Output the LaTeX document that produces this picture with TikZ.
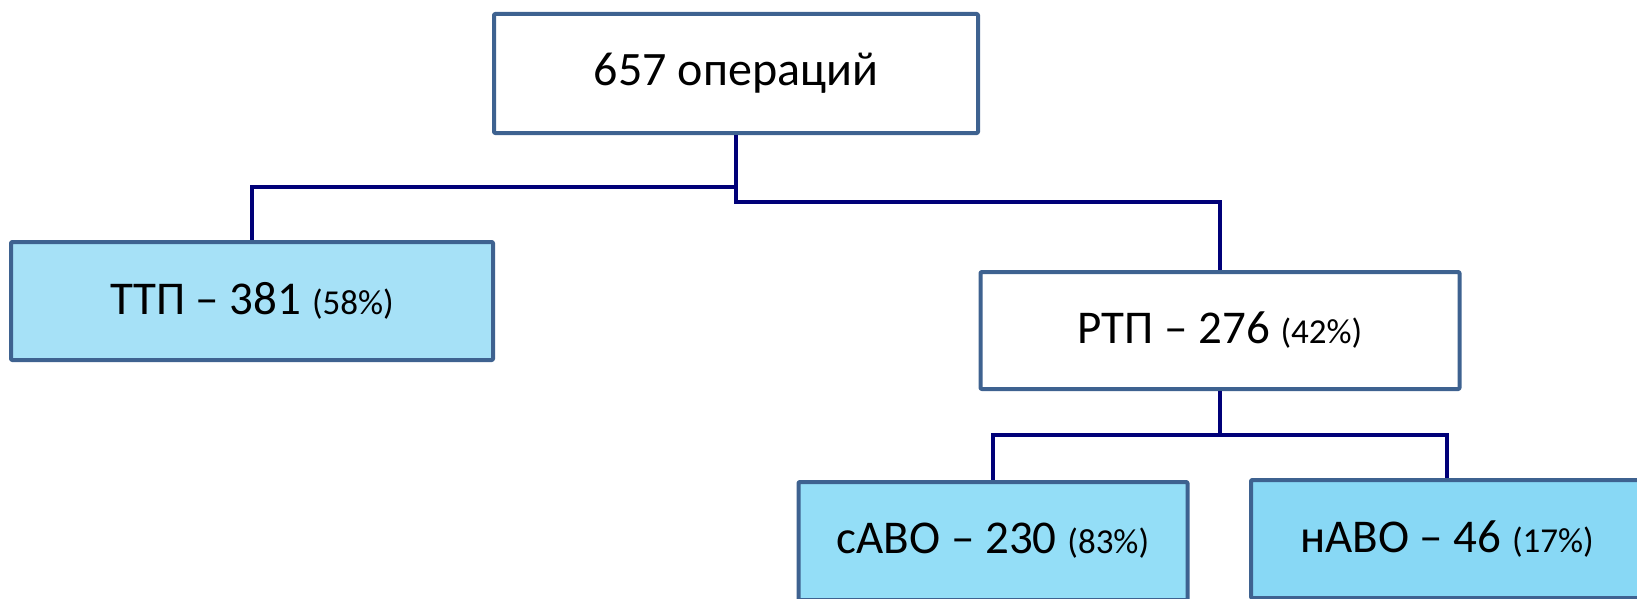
\documentclass[tikz,border=0pt]{standalone}
\usepackage{fontspec}
\setmainfont{Carlito}
\definecolor{boxline}{RGB}{62,98,144}
\definecolor{linkline}{RGB}{0,0,120}
\definecolor{fillA}{RGB}{166,225,247}
\definecolor{fillB}{RGB}{148,222,247}
\definecolor{fillC}{RGB}{136,216,245}
\newcommand{\pct}[1]{{\fontsize{35}{38}\selectfont #1}}
\begin{document}
\begin{tikzpicture}[x=1pt, y=-1pt,
    box/.style={draw=boxline, line width=4pt, fill=white, inner sep=0pt,
        line join=round, rounded corners=1pt, font=\fontsize{47}{52}\selectfont},
    link/.style={draw=linkline, line width=3.5pt}]
    \clip (0,0) rectangle (1637,599);

    \node[box, minimum width=484pt, minimum height=119pt,
        font=\fontsize{48}{52}\selectfont] (total) at (736,73.5) {657 операций};
    \node[box, fill=fillA, minimum width=482pt, minimum height=118pt] (ttp) at (252,301) {ТТП – 381 \pct{(58\%)}};
    \node[box, minimum width=479pt, minimum height=117pt] (rtp) at (1220,330.5) {РТП – 276 \pct{(42\%)}};
    \node[box, fill=fillB, minimum width=389pt, minimum height=118pt] (sabo) at (993,541) {сАВО – 230 \pct{(83\%)}};
    \node[box, fill=fillC, minimum width=392pt, minimum height=118pt] (nabo) at (1447,539) {нАВО – 46 \pct{(17\%)}};

    \coordinate (jl) at (736,187);
    \coordinate (jr) at (736,202);
    \coordinate (jb) at (1220,435);

    \draw[link] (total.south) -- (jl) -| (ttp.north);
    \draw[link] (total.south) -- (jr) -| (rtp.north);
    \draw[link] (rtp.south) -- (jb) -| (sabo.north);
    \draw[link] (rtp.south) -- (jb) -| (nabo.north);
\end{tikzpicture}
\end{document}
